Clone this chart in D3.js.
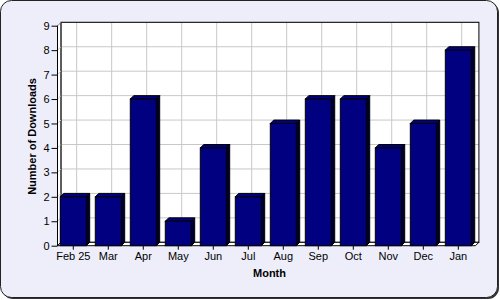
<!DOCTYPE html>
<html>
<head>
<meta charset="utf-8">
<script src="https://cdn.jsdelivr.net/npm/d3@7"></script>
<style>
  html, body { margin: 0; padding: 0; background: #fff; }
  svg { display: block; font-family: "Liberation Sans", Arial, sans-serif; }
</style>
</head>
<body>
<svg id="chart" width="500" height="300"></svg>
<script>
// chart data
const months = ['Feb 25', 'Mar', 'Apr', 'May', 'Jun', 'Jul', 'Aug', 'Sep', 'Oct', 'Nov', 'Dec', 'Jan'];
const downloads = [2, 2, 6, 1, 4, 2, 5, 6, 6, 4, 5, 8];
const yTicks = [0, 1, 2, 3, 4, 5, 6, 7, 8, 9];

const width = 500, height = 300;
const depth = 3.4;          // 3d offset of the back wall
const left = 57.5, right = 475.5;

const svg = d3.select('#chart');

// panel background with a dark shadow edge
svg.append('rect')
   .attr('x', 2).attr('y', 2)
   .attr('width', 497).attr('height', 297)
   .attr('rx', 11)
   .attr('fill', '#333');
svg.append('rect')
   .attr('x', 0.5).attr('y', 0.5)
   .attr('width', 497).attr('height', 297)
   .attr('rx', 11)
   .attr('fill', '#eeeefb')
   .attr('stroke', '#222');

const x = d3.scaleBand()
            .domain(months)
            .range([55.8, 475.8])
            .paddingInner(0.257)
            .paddingOuter(0.128);

const y = d3.scaleLinear()
            .domain([0, 9])
            .range([245.7, 25.7]);

const y0 = y(0);
const gridColor = '#c8c8c8';

// back wall
const back = svg.append('g');
back.append('rect')
    .attr('x', left + depth).attr('y', y(9) - depth)
    .attr('width', right - left).attr('height', y0 - y(9))
    .attr('fill', '#fff');

// left wall and floor
svg.append('path')
   .attr('d', `M${left},${y(9)} L${left + depth},${y(9) - depth} L${left + depth},${y0 - depth} L${left},${y0} Z`)
   .attr('fill', '#fff').attr('stroke', '#000');
svg.append('path')
   .attr('d', `M${left},${y0} L${left + depth},${y0 - depth} L${right + depth},${y0 - depth} L${right},${y0} Z`)
   .attr('fill', '#fff').attr('stroke', '#000');

// grid on back wall and left wall
back.selectAll('.hgrid')
    .data(yTicks.slice(1))
    .join('line')
    .attr('x1', left + depth).attr('x2', right + depth)
    .attr('y1', d => y(d) - depth).attr('y2', d => y(d) - depth)
    .attr('stroke', gridColor);
svg.selectAll('.sgrid')
   .data(yTicks.slice(1))
   .join('line')
   .attr('x1', left).attr('x2', left + depth)
   .attr('y1', d => y(d)).attr('y2', d => y(d) - depth)
   .attr('stroke', gridColor);
back.selectAll('.vgrid')
    .data(months)
    .join('line')
    .attr('x1', d => x(d) + x.bandwidth() / 2 + depth)
    .attr('x2', d => x(d) + x.bandwidth() / 2 + depth)
    .attr('y1', y(9) - depth).attr('y2', y0 - depth)
    .attr('stroke', gridColor);
back.append('rect')
    .attr('x', left + depth).attr('y', y(9) - depth)
    .attr('width', right - left).attr('height', y0 - y(9))
    .attr('fill', 'none')
    .attr('stroke', '#000');

// bars
const bars = svg.append('g')
                .selectAll('g')
                .data(months.map((m, i) => ({ month: m, value: downloads[i] })))
                .join('g');

bars.append('path')  // side face
    .attr('d', d => {
        const x1 = x(d.month) + x.bandwidth(), t = y(d.value);
        return `M${x1},${t} L${x1 + depth},${t - depth} L${x1 + depth},${y0 - depth} L${x1},${y0} Z`;
    })
    .attr('fill', '#00002e').attr('stroke', '#000');

bars.append('path')  // top face
    .attr('d', d => {
        const x0 = x(d.month), x1 = x0 + x.bandwidth(), t = y(d.value);
        return `M${x0},${t} L${x0 + depth},${t - depth} L${x1 + depth},${t - depth} L${x1},${t} Z`;
    })
    .attr('fill', '#000080').attr('stroke', '#000');

bars.append('rect')  // front face
    .attr('x', d => x(d.month))
    .attr('y', d => y(d.value))
    .attr('width', x.bandwidth())
    .attr('height', d => y0 - y(d.value))
    .attr('fill', '#000080').attr('stroke', '#000');

// axes
const yAxis = d3.axisLeft(y).tickValues(yTicks).tickSize(6).tickPadding(2);
const gy = svg.append('g')
              .attr('transform', `translate(${left},0)`)
              .call(yAxis);
gy.select('.domain').remove();
gy.append('line')
  .attr('x1', 0).attr('x2', 0)
  .attr('y1', y(9)).attr('y2', y0)
  .attr('stroke', '#000');

const xAxis = d3.axisBottom(x).tickSize(4).tickPadding(3);
const gx = svg.append('g')
              .attr('transform', `translate(0,${y0})`)
              .call(xAxis);
gx.select('.domain').remove();

svg.selectAll('.tick text')
   .attr('font-size', 11)
   .attr('font-family', '"Liberation Sans", Arial, sans-serif')
   .attr('fill', '#000');
svg.selectAll('.tick line').attr('stroke', '#000');

// titles
svg.append('text')
   .attr('x', 269.5).attr('y', 276.5)
   .attr('text-anchor', 'middle')
   .attr('font-size', 11).attr('font-weight', 'bold')
   .text('Month');

svg.append('text')
   .attr('transform', 'translate(35.5,136.5) rotate(-90)')
   .attr('text-anchor', 'middle')
   .attr('font-size', 11).attr('font-weight', 'bold')
   .text('Number of Downloads');
</script>
</body>
</html>
